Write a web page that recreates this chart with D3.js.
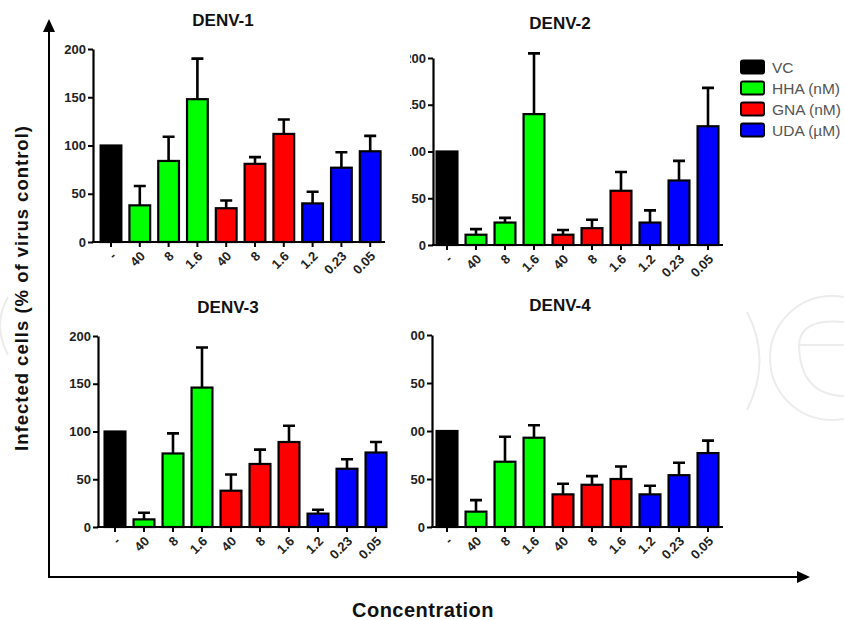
<!DOCTYPE html>
<html>
<head>
<meta charset="utf-8">
<script src="https://cdnjs.cloudflare.com/ajax/libs/d3/7.8.5/d3.min.js"></script>
<style>
body{margin:0;background:#fff;}
text{font-family:"Liberation Sans",Arial,sans-serif;}
</style>
</head>
<body>
<svg id="basicSVG" width="844" height="620"></svg>
<script>
// data
var concLabels = ["-","40","8","1.6","40","8","1.6","1.2","0.23","0.05"];
var concGroup = ["VC","HHA","HHA","HHA","GNA","GNA","GNA","UDA","UDA","UDA"];
var legendNames = ["VC","HHA (nM)","GNA (nM)","UDA (\u00b5M)"];
var yTicks = [0,50,100,150,200];

var denv1Mean = [100,38,84,148,35,81,112,40,77,94];
var denv1Err  = [0,20,25,42,8,7,15,12,16,16];
var denv2Mean = [100,11,24,140,11,18,58,24,69,127];
var denv2Err  = [0,6,5,65,5,9,20,13,21,41];
var denv3Mean = [100,8,77,146,38,66,89,14,61,78];
var denv3Err  = [0,7,21,42,17,15,17,4,10,11];
var denv4Mean = [100,16,68,93,34,44,50,34,54,77];
var denv4Err  = [0,12,26,13,11,9,13,9,13,13];

var groupColor = {"VC":"#000000","HHA":"#00ff00","GNA":"#ff0000","UDA":"#0000ff"};
var legendColor = ["#000000","#00ff00","#ff0000","#0000ff"];

var svg = d3.select("#basicSVG");

// faint watermark
var wm = svg.append("g").attr("fill","none").attr("stroke","#ececec").attr("stroke-width",2);
wm.append("path").attr("d","M747,312 Q772,360 747,410");
wm.append("circle").attr("cx",832).attr("cy",358).attr("r",62);
wm.append("path").attr("d","M844,322 Q800,318 799,345 L844,345 M799,345 Q800,395 844,396");
wm.append("path").attr("d","M8,297 Q-8,325 8,355");

// panel layout
var panels = [
	{title:"DENV-1", mean:denv1Mean, err:denv1Err, ax:93,  y0:242, y200:49,  first:111, step:28.8, xEnd:385, tx:223, ty:26, clip:false},
	{title:"DENV-2", mean:denv2Mean, err:denv2Err, ax:433, y0:245, y200:58,  first:447, step:29,   xEnd:723, tx:560, ty:29, clip:true},
	{title:"DENV-3", mean:denv3Mean, err:denv3Err, ax:98,  y0:527, y200:336, first:115, step:29,   xEnd:385, tx:228, ty:313, clip:false},
	{title:"DENV-4", mean:denv4Mean, err:denv4Err, ax:432, y0:527, y200:335, first:447, step:29,   xEnd:723, tx:560, ty:311, clip:true}
];

svg.append("clipPath").attr("id","rightClip").append("rect")
	.attr("x",410).attr("y",0).attr("width",434).attr("height",620);

for(var p in panels)
{
	drawPanel(panels[p]);
}

function drawPanel(pn)
{
	var g = svg.append("g");
	var y = d3.scaleLinear().domain([0,200]).range([pn.y0,pn.y200]);
	var start = pn.first - pn.step/2;
	var x = d3.scaleBand().domain(d3.range(concLabels.length))
		.range([start, start + pn.step*concLabels.length]).paddingInner(0.28).paddingOuter(0.14);

	// bars
	g.selectAll("rect.bar").data(pn.mean).enter().append("rect")
		.attr("class","bar")
		.attr("x",function(d,i){return x(i);})
		.attr("y",function(d){return y(d);})
		.attr("width",x.bandwidth())
		.attr("height",function(d){return pn.y0 - y(d);})
		.attr("fill",function(d,i){return groupColor[concGroup[i]];})
		.attr("stroke","#000").attr("stroke-width",2.2);

	// error bars (upper only)
	var eb = g.append("g").attr("stroke","#000").attr("stroke-width",2.6).attr("fill","none");
	for(var i=0;i<pn.mean.length;i++)
	{
		if(pn.err[i]<=0) continue;
		var cx = x(i) + x.bandwidth()/2;
		eb.append("path").attr("d","M"+cx+","+y(pn.mean[i])+" L"+cx+","+y(pn.mean[i]+pn.err[i])
			+" M"+(cx-6)+","+y(pn.mean[i]+pn.err[i])+" L"+(cx+6)+","+y(pn.mean[i]+pn.err[i]));
	}

	// y axis (right panels are cut at the left edge, as in the source)
	var yHolder = g.append("g");
	if(pn.clip) yHolder.attr("clip-path","url(#rightClip)");
	var yAxis = d3.axisLeft(y).tickValues(yTicks).tickSize(5).tickPadding(2).tickSizeOuter(0);
	var ya = yHolder.append("g").attr("transform","translate("+pn.ax+",0)").call(yAxis);
	ya.select(".domain").attr("stroke-width",2.2);
	ya.selectAll(".tick line").attr("stroke-width",2);
	ya.selectAll(".tick text").attr("font-size",13).attr("font-weight","bold").attr("fill","#222")
		.attr("font-family","Liberation Sans, Arial, sans-serif");

	// x axis
	g.append("path").attr("d","M"+(pn.ax-1)+","+pn.y0+" L"+pn.xEnd+","+pn.y0)
		.attr("stroke","#000").attr("stroke-width",2.2);
	for(var i=0;i<concLabels.length;i++)
	{
		var cx = x(i) + x.bandwidth()/2;
		g.append("path").attr("d","M"+cx+","+pn.y0+" L"+cx+","+(pn.y0+5))
			.attr("stroke","#000").attr("stroke-width",2);
		g.append("text").text(concLabels[i])
			.attr("transform","translate("+(cx+6)+","+(pn.y0+15)+") rotate(-45)")
			.attr("text-anchor","end")
			.attr("font-size",13).attr("font-weight","bold").attr("fill","#222");
	}

	// title
	g.append("text").text(pn.title).attr("x",pn.tx).attr("y",pn.ty)
		.attr("text-anchor","middle").attr("font-size",17).attr("font-weight","bold").attr("fill","#111");
}

// legend
var lg = svg.append("g");
for(var i in legendNames)
{
	var ly = 67 + i*21;
	lg.append("rect").attr("x",741).attr("y",ly-6.5).attr("width",23).attr("height",13)
		.attr("rx",2).attr("fill",legendColor[i]).attr("stroke","#000").attr("stroke-width",2);
	lg.append("text").text(legendNames[i]).attr("x",772).attr("y",ly+5.5)
		.attr("font-size",15.5).attr("fill","#555");
}

// big outer axes
var big = svg.append("g");
big.append("path").attr("d","M49,577 L49,30").attr("stroke","#000").attr("stroke-width",2);
big.append("path").attr("d","M49,19 L43,32 L55,32 Z").attr("fill","#000");
big.append("path").attr("d","M48,577 L799,577").attr("stroke","#000").attr("stroke-width",2);
big.append("path").attr("d","M810,577 L797,571 L797,583 Z").attr("fill","#000");

svg.append("text").text("Infected cells (% of virus control)")
	.attr("transform","translate(28,288) rotate(-90)")
	.attr("text-anchor","middle").attr("font-size",18.5).attr("letter-spacing",1)
	.attr("font-weight","bold").attr("fill","#111");
svg.append("text").text("Concentration").attr("x",423).attr("y",617)
	.attr("text-anchor","middle").attr("font-size",20).attr("letter-spacing",0.5)
	.attr("font-weight","bold").attr("fill","#111");
</script>
</body>
</html>
